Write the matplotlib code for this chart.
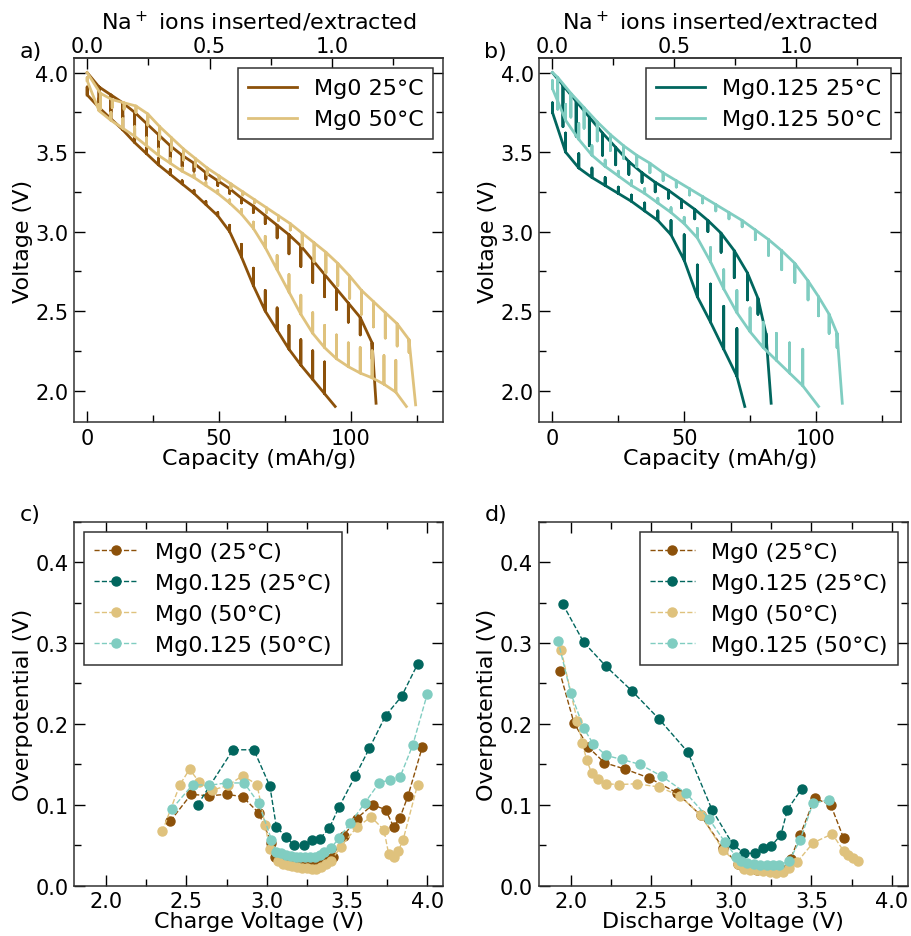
import numpy as np
import matplotlib
matplotlib.use('Agg')
import matplotlib.pyplot as plt
from matplotlib.ticker import MultipleLocator, FixedLocator

plt.rcParams['font.family'] = 'DejaVu Sans'
plt.rcParams['font.size'] = 16

#%% colours (BrBG)
C_MG0_25 = '#8c510a'
C_MG0_50 = '#dfc27d'
C_MG125_25 = '#01665e'
C_MG125_50 = '#80cdc1'

#%% GITT data: pulse capacity (mAh/g), loaded voltage (V), relaxation jump (V)
# Mg0 25C
a25_dis_cap = [0, 4.5, 9, 13.5, 18, 22.5, 27, 31.5, 36, 40.5, 45, 49.5, 54, 58.5, 63, 67.5, 72, 76.5, 81, 85.5, 90, 94]
a25_dis_v = [3.86, 3.78, 3.71, 3.64, 3.56, 3.49, 3.42, 3.36, 3.30, 3.24, 3.17, 3.10, 3.00, 2.84, 2.66, 2.50, 2.38, 2.26, 2.16, 2.07, 1.98, 1.90]
a25_dis_dv = [0.05, 0.06, 0.08, 0.09, 0.09, 0.07, 0.04, 0.03, 0.02, 0.02, 0.02, 0.02, 0.04, 0.08, 0.11, 0.13, 0.14, 0.15, 0.16, 0.18, 0.20, 0.0]
a25_chg_cap = [109.5, 108, 103.5, 99, 94.5, 90, 85.5, 81, 76.5, 72, 67.5, 63, 58.5, 54, 49.5, 45, 40.5, 36, 31.5, 27, 22.5, 18, 13.5, 9, 4.5, 0]
a25_chg_v = [1.92, 2.30, 2.46, 2.55, 2.64, 2.73, 2.82, 2.91, 2.98, 3.04, 3.10, 3.16, 3.21, 3.27, 3.32, 3.37, 3.43, 3.48, 3.54, 3.61, 3.68, 3.75, 3.81, 3.86, 3.91, 4.00]
a25_chg_dv = [0.0, 0.10, 0.11, 0.12, 0.13, 0.14, 0.14, 0.13, 0.12, 0.08, 0.05, 0.04, 0.03, 0.03, 0.03, 0.04, 0.05, 0.07, 0.09, 0.10, 0.10, 0.09, 0.09, 0.11, 0.14, 0.0]
# Mg0 50C
a50_dis_cap = [0, 4.5, 9, 13.5, 18, 22.5, 27, 31.5, 36, 40.5, 45, 49.5, 54, 58.5, 63, 67.5, 72, 76.5, 81, 85.5, 90, 94.5, 99, 103.5, 108, 112.5, 117, 121]
a50_dis_v = [3.95, 3.76, 3.70, 3.65, 3.60, 3.54, 3.48, 3.43, 3.38, 3.34, 3.29, 3.24, 3.18, 3.11, 3.02, 2.90, 2.76, 2.62, 2.48, 2.36, 2.27, 2.20, 2.15, 2.11, 2.08, 2.04, 1.99, 1.90]
a50_dis_dv = [0.02, 0.04, 0.05, 0.06, 0.06, 0.05, 0.04, 0.03, 0.02, 0.02, 0.02, 0.02, 0.02, 0.03, 0.04, 0.07, 0.09, 0.11, 0.12, 0.13, 0.14, 0.15, 0.15, 0.16, 0.17, 0.18, 0.20, 0.0]
a50_chg_cap = [124.5, 122, 117.5, 113, 108.5, 104, 99.5, 95, 90.5, 86, 81.5, 77, 72.5, 68, 63.5, 59, 54.5, 50, 45.5, 41, 36.5, 32, 27.5, 23, 18.5, 14, 9.5, 5, 0]
a50_chg_v = [1.91, 2.32, 2.42, 2.49, 2.56, 2.63, 2.72, 2.80, 2.87, 2.93, 2.99, 3.05, 3.10, 3.15, 3.20, 3.25, 3.30, 3.35, 3.40, 3.46, 3.52, 3.59, 3.66, 3.74, 3.79, 3.81, 3.83, 3.87, 4.00]
a50_chg_dv = [0.0, 0.08, 0.14, 0.16, 0.16, 0.15, 0.14, 0.14, 0.13, 0.12, 0.08, 0.04, 0.03, 0.03, 0.02, 0.02, 0.03, 0.03, 0.04, 0.05, 0.07, 0.08, 0.08, 0.07, 0.04, 0.04, 0.05, 0.10, 0.0]
# Mg0.125 25C
b25_dis_cap = [0, 5, 10, 15, 20, 25, 30, 35, 40, 45, 50, 55, 60, 65, 70, 73]
b25_dis_v = [3.75, 3.50, 3.40, 3.34, 3.29, 3.24, 3.19, 3.13, 3.07, 2.98, 2.82, 2.59, 2.43, 2.26, 2.09, 1.90]
b25_dis_dv = [0.06, 0.12, 0.09, 0.06, 0.05, 0.04, 0.04, 0.05, 0.06, 0.09, 0.16, 0.20, 0.24, 0.27, 0.30, 0.0]
b25_chg_cap = [83, 81, 78, 74, 69, 64, 59, 54, 49, 44, 39, 34, 29, 24, 19, 14, 9, 4, 0]
b25_chg_v = [1.92, 2.36, 2.58, 2.74, 2.88, 2.99, 3.07, 3.14, 3.20, 3.26, 3.31, 3.37, 3.44, 3.53, 3.62, 3.72, 3.82, 3.92, 4.00]
b25_chg_dv = [0.0, 0.08, 0.10, 0.17, 0.17, 0.12, 0.07, 0.06, 0.05, 0.05, 0.06, 0.06, 0.08, 0.11, 0.14, 0.18, 0.22, 0.26, 0.0]
# Mg0.125 50C
b50_dis_cap = [0, 5, 10, 15, 20, 25, 30, 35, 40, 45, 50, 55, 60, 65, 70, 75, 80, 85, 90, 95, 101]
b50_dis_v = [3.90, 3.70, 3.58, 3.48, 3.41, 3.35, 3.29, 3.24, 3.18, 3.12, 3.05, 2.96, 2.81, 2.64, 2.49, 2.37, 2.27, 2.19, 2.11, 2.03, 1.90]
b50_dis_dv = [0.05, 0.10, 0.10, 0.06, 0.04, 0.03, 0.03, 0.03, 0.03, 0.03, 0.04, 0.06, 0.09, 0.12, 0.14, 0.15, 0.16, 0.17, 0.19, 0.23, 0.0]
b50_chg_cap = [110, 108, 105, 101, 97, 92, 87, 82, 77, 72, 67, 62, 57, 52, 47, 42, 37, 32, 27, 22, 17, 12, 7, 2, 0]
b50_chg_v = [1.92, 2.36, 2.48, 2.59, 2.69, 2.80, 2.88, 2.95, 3.01, 3.07, 3.12, 3.17, 3.22, 3.27, 3.32, 3.37, 3.43, 3.48, 3.54, 3.61, 3.69, 3.78, 3.87, 3.97, 4.00]
b50_chg_dv = [0.0, 0.09, 0.12, 0.12, 0.12, 0.12, 0.12, 0.10, 0.06, 0.04, 0.04, 0.04, 0.04, 0.04, 0.04, 0.05, 0.06, 0.07, 0.08, 0.10, 0.12, 0.13, 0.15, 0.20, 0.0]

NA_CAP_A = 92.8   # mAh/g per Na+
NA_CAP_B = 92.4
NA_TICKS = [0.0, 0.5, 1.0]
NA_MINOR = [0.25, 0.75, 1.25]

#%% overpotential vs charge voltage
c_mg0_25_v = [2.40, 2.53, 2.64, 2.75, 2.85, 2.95, 3.03, 3.05, 3.08, 3.11, 3.14, 3.17, 3.20, 3.23, 3.26, 3.29, 3.32, 3.35, 3.38, 3.41, 3.48, 3.56, 3.66, 3.74, 3.79, 3.83, 3.88, 3.97]
c_mg0_25_o = [0.080, 0.113, 0.111, 0.113, 0.110, 0.090, 0.053, 0.036, 0.032, 0.030, 0.029, 0.028, 0.027, 0.027, 0.027, 0.028, 0.028, 0.030, 0.033, 0.036, 0.062, 0.083, 0.100, 0.094, 0.073, 0.084, 0.111, 0.172]
c_mg125_25_v = [2.57, 2.79, 2.92, 3.02, 3.06, 3.12, 3.17, 3.23, 3.28, 3.33, 3.39, 3.45, 3.55, 3.64, 3.74, 3.84, 3.94]
c_mg125_25_o = [0.100, 0.168, 0.168, 0.123, 0.073, 0.060, 0.050, 0.050, 0.056, 0.058, 0.071, 0.097, 0.135, 0.170, 0.210, 0.234, 0.274]
c_mg0_50_v = [2.35, 2.46, 2.52, 2.58, 2.66, 2.76, 2.85, 2.94, 2.99, 3.02, 3.07, 3.10, 3.13, 3.16, 3.19, 3.22, 3.25, 3.28, 3.31, 3.34, 3.37, 3.40, 3.46, 3.56, 3.65, 3.73, 3.76, 3.79, 3.82, 3.85, 3.94]
c_mg0_50_o = [0.067, 0.125, 0.144, 0.128, 0.118, 0.124, 0.136, 0.125, 0.075, 0.045, 0.030, 0.027, 0.025, 0.024, 0.023, 0.022, 0.022, 0.021, 0.021, 0.023, 0.027, 0.030, 0.048, 0.072, 0.085, 0.069, 0.039, 0.036, 0.043, 0.057, 0.125]
c_mg125_50_v = [2.41, 2.54, 2.64, 2.75, 2.86, 2.95, 3.03, 3.06, 3.09, 3.12, 3.15, 3.18, 3.21, 3.24, 3.27, 3.30, 3.33, 3.36, 3.40, 3.45, 3.52, 3.61, 3.70, 3.77, 3.83, 3.91, 4.00]
c_mg125_50_o = [0.095, 0.125, 0.124, 0.127, 0.127, 0.102, 0.057, 0.042, 0.040, 0.038, 0.037, 0.036, 0.035, 0.035, 0.035, 0.036, 0.038, 0.042, 0.046, 0.059, 0.077, 0.102, 0.127, 0.131, 0.134, 0.174, 0.237]

#%% overpotential vs discharge voltage
d_mg0_25_v = [1.93, 2.02, 2.11, 2.21, 2.34, 2.49, 2.66, 2.81, 2.95, 3.04, 3.08, 3.12, 3.16, 3.20, 3.24, 3.28, 3.32, 3.37, 3.43, 3.52, 3.62, 3.70]
d_mg0_25_o = [0.265, 0.201, 0.171, 0.152, 0.144, 0.133, 0.115, 0.087, 0.046, 0.027, 0.022, 0.021, 0.020, 0.020, 0.019, 0.019, 0.020, 0.033, 0.063, 0.108, 0.100, 0.059]
d_mg125_25_v = [1.95, 2.08, 2.22, 2.38, 2.55, 2.73, 2.88, 3.01, 3.08, 3.15, 3.20, 3.25, 3.31, 3.35, 3.44]
d_mg125_25_o = [0.348, 0.301, 0.271, 0.241, 0.206, 0.165, 0.094, 0.051, 0.040, 0.040, 0.047, 0.049, 0.063, 0.094, 0.120]
d_mg0_50_v = [1.94, 2.04, 2.07, 2.10, 2.13, 2.17, 2.22, 2.30, 2.41, 2.55, 2.68, 2.81, 2.95, 3.04, 3.08, 3.12, 3.16, 3.20, 3.24, 3.28, 3.32, 3.36, 3.41, 3.51, 3.63, 3.70, 3.73, 3.76, 3.79]
d_mg0_50_o = [0.291, 0.204, 0.177, 0.155, 0.139, 0.132, 0.126, 0.125, 0.126, 0.122, 0.111, 0.087, 0.044, 0.027, 0.021, 0.020, 0.019, 0.018, 0.017, 0.016, 0.017, 0.022, 0.029, 0.053, 0.064, 0.043, 0.038, 0.034, 0.031]
d_mg125_50_v = [1.92, 2.00, 2.08, 2.14, 2.22, 2.32, 2.43, 2.57, 2.72, 2.86, 2.96, 3.03, 3.06, 3.10, 3.14, 3.18, 3.22, 3.26, 3.30, 3.36, 3.43, 3.51, 3.61]
d_mg125_50_o = [0.303, 0.238, 0.195, 0.175, 0.161, 0.156, 0.150, 0.135, 0.114, 0.083, 0.054, 0.036, 0.030, 0.028, 0.027, 0.026, 0.025, 0.025, 0.026, 0.030, 0.057, 0.102, 0.106]

#%%
def gitt_path(cap, v, dv, sign):
    '''loaded curve with vertical relaxation spikes at each pulse end'''
    xs, ys = [], []
    for c, vl, d in zip(cap, v, dv):
        xs.append(c)
        ys.append(vl)
        if d > 0:
            xs += [c, c]
            ys += [vl + sign * d, vl]
    return xs, ys


def ticks_in(ax):
    ax.tick_params(which='both', direction='in', labelsize=15)
    ax.tick_params(which='major', length=8, width=1)
    ax.tick_params(which='minor', length=5, width=1)


def style(ax, top=True):
    ticks_in(ax)
    ax.tick_params(which='both', top=top, right=True, pad=4)
    for s in ax.spines.values():
        s.set_linewidth(1.1)
        s.set_color('#333333')


def leg(ax, loc, hl):
    lg = ax.legend(loc=loc, fontsize=16, fancybox=False, framealpha=1, edgecolor='#333333',
                   handlelength=hl, handletextpad=0.75, borderaxespad=0.45, borderpad=0.45,
                   labelspacing=0.5, numpoints=1)
    lg.get_frame().set_linewidth(1.1)


def gitt_panel(ax, curves, na_cap, xlim, labels):
    for (dis, chg, col), lab in zip(curves, labels):
        x, y = gitt_path(*dis, 1)
        ax.plot(x, y, color=col, lw=2, label=lab)
        x, y = gitt_path(*chg, -1)
        ax.plot(x, y, color=col, lw=2)
    ax.set_xlim(*xlim)
    ax.set_ylim(1.8, 4.09)
    ax.xaxis.set_major_locator(MultipleLocator(50))
    ax.xaxis.set_minor_locator(MultipleLocator(25))
    ax.yaxis.set_major_locator(MultipleLocator(0.5))
    ax.yaxis.set_minor_locator(MultipleLocator(0.25))
    ax.set_xlabel('Capacity (mAh/g)', fontsize=16, labelpad=0)
    ax.set_ylabel('Voltage (V)', fontsize=16, labelpad=2)
    style(ax, top=False)
    sec = ax.secondary_xaxis('top', functions=(lambda c: c / na_cap, lambda n: n * na_cap))
    sec.xaxis.set_major_locator(FixedLocator(NA_TICKS))
    sec.xaxis.set_minor_locator(FixedLocator(NA_MINOR))
    ticks_in(sec)
    sec.tick_params(which='both', pad=2)
    sec.spines['top'].set_linewidth(1.1)
    sec.spines['top'].set_color('#333333')
    sec.set_xlabel('Na$^+$ ions inserted/extracted', fontsize=16, labelpad=5)
    leg(ax, 'upper right', 2.2)


def over_panel(ax, series, xlabel, loc):
    for v, o, col, lab in series:
        ax.plot(v, o, '--o', color=col, lw=1, ms=6.5, label=lab)
    ax.set_xlim(1.8, 4.1)
    ax.set_ylim(0, 0.45)
    ax.xaxis.set_major_locator(MultipleLocator(0.5))
    ax.xaxis.set_minor_locator(MultipleLocator(0.25))
    ax.yaxis.set_major_locator(MultipleLocator(0.1))
    ax.yaxis.set_minor_locator(MultipleLocator(0.05))
    ax.set_xlabel(xlabel, fontsize=16, labelpad=0)
    ax.set_ylabel('Overpotential (V)', fontsize=16, labelpad=2)
    style(ax)
    leg(ax, loc, 2.0)


#%%
fig = plt.figure(figsize=(9.12, 9.37), dpi=100)
ax_a = fig.add_axes([0.0811, 0.5482, 0.405, 0.3885])
ax_b = fig.add_axes([0.5913, 0.5482, 0.3967, 0.3885])
ax_c = fig.add_axes([0.0811, 0.0537, 0.405, 0.3885])
ax_d = fig.add_axes([0.5907, 0.0537, 0.4046, 0.3885])

gitt_panel(ax_a,
           [((a25_dis_cap, a25_dis_v, a25_dis_dv), (a25_chg_cap, a25_chg_v, a25_chg_dv), C_MG0_25),
            ((a50_dis_cap, a50_dis_v, a50_dis_dv), (a50_chg_cap, a50_chg_v, a50_chg_dv), C_MG0_50)],
           NA_CAP_A, (-5, 135), ['Mg0 25°C', 'Mg0 50°C'])
gitt_panel(ax_b,
           [((b25_dis_cap, b25_dis_v, b25_dis_dv), (b25_chg_cap, b25_chg_v, b25_chg_dv), C_MG125_25),
            ((b50_dis_cap, b50_dis_v, b50_dis_dv), (b50_chg_cap, b50_chg_v, b50_chg_dv), C_MG125_50)],
           NA_CAP_B, (-5, 132.3), ['Mg0.125 25°C', 'Mg0.125 50°C'])

over_panel(ax_c,
           [(c_mg0_25_v, c_mg0_25_o, C_MG0_25, 'Mg0 (25°C)'),
            (c_mg125_25_v, c_mg125_25_o, C_MG125_25, 'Mg0.125 (25°C)'),
            (c_mg0_50_v, c_mg0_50_o, C_MG0_50, 'Mg0 (50°C)'),
            (c_mg125_50_v, c_mg125_50_o, C_MG125_50, 'Mg0.125 (50°C)')],
           'Charge Voltage (V)', 'upper left')
over_panel(ax_d,
           [(d_mg0_25_v, d_mg0_25_o, C_MG0_25, 'Mg0 (25°C)'),
            (d_mg125_25_v, d_mg125_25_o, C_MG125_25, 'Mg0.125 (25°C)'),
            (d_mg0_50_v, d_mg0_50_o, C_MG0_50, 'Mg0 (50°C)'),
            (d_mg125_50_v, d_mg125_50_o, C_MG125_50, 'Mg0.125 (50°C)')],
           'Discharge Voltage (V)', 'upper right')

for lab, x, y in [('a)', 0.022, 0.945), ('b)', 0.531, 0.945), ('c)', 0.022, 0.450), ('d)', 0.531, 0.450)]:
    fig.text(x, y, lab, fontsize=16, ha='left', va='center')

fig.savefig('out.png', dpi=100)
